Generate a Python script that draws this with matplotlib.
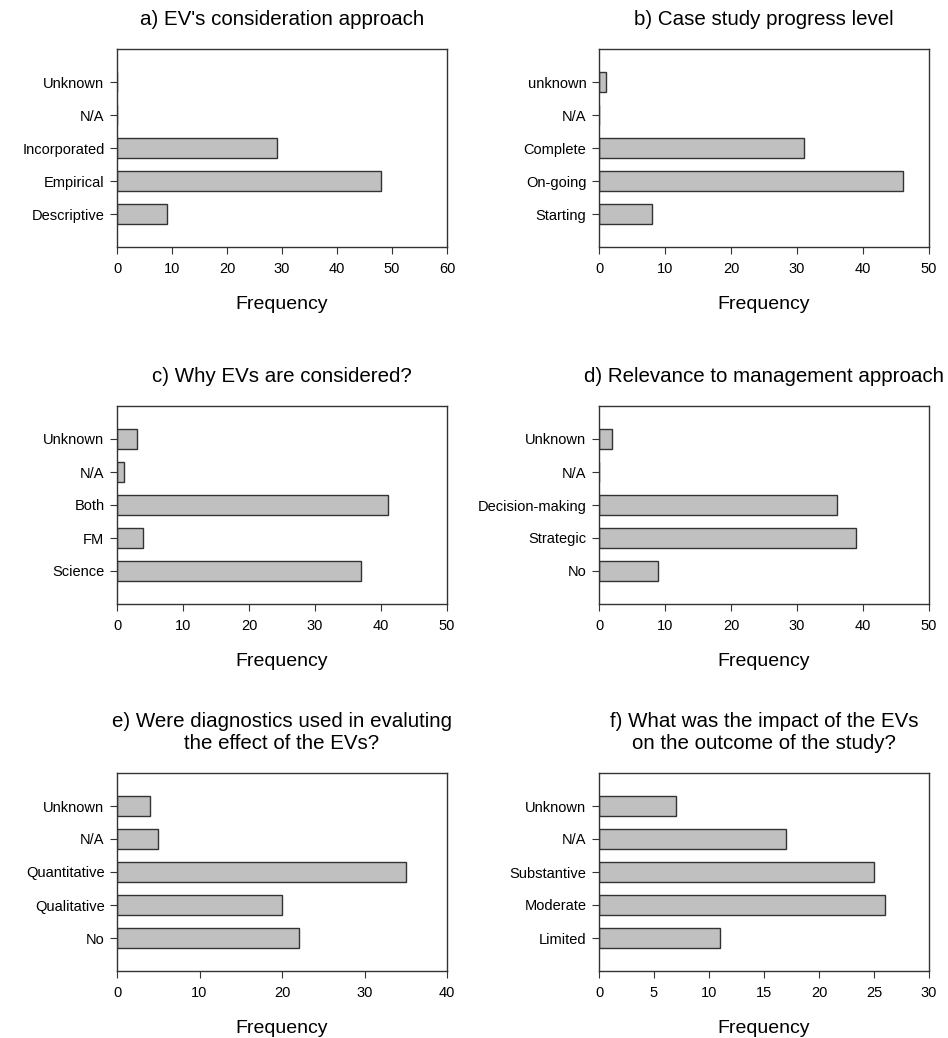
#!/usr/bin/env python
# -*- coding: utf-8 -*-

from matplotlib import pyplot as plt

plt.rcParams['font.family'] = ['Liberation Sans', 'DejaVu Sans']

# categories listed bottom to top
catA = ['Descriptive', 'Empirical', 'Incorporated', 'N/A', 'Unknown']
valA = [9, 48, 29, 0, 0]
catB = ['Starting', 'On-going', 'Complete', 'N/A', 'unknown']
valB = [8, 46, 31, 0, 1]
catC = ['Science', 'FM', 'Both', 'N/A', 'Unknown']
valC = [37, 4, 41, 1, 3]
catD = ['No', 'Strategic', 'Decision-making', 'N/A', 'Unknown']
valD = [9, 39, 36, 0, 2]
catE = ['No', 'Qualitative', 'Quantitative', 'N/A', 'Unknown']
valE = [22, 20, 35, 5, 4]
catF = ['Limited', 'Moderate', 'Substantive', 'N/A', 'Unknown']
valF = [11, 26, 25, 17, 7]

titles = ["a) EV's consideration approach",
          "b) Case study progress level",
          "c) Why EVs are considered?",
          "d) Relevance to management approach",
          "e) Were diagnostics used in evaluting\nthe effect of the EVs?",
          "f) What was the impact of the EVs\non the outcome of the study?"]
xmax = [60, 50, 50, 50, 40, 30]
xstep = [10, 10, 10, 10, 10, 5]
data = [(catA, valA), (catB, valB), (catC, valC),
        (catD, valD), (catE, valE), (catF, valF)]

W, H = 948.0, 1038.0
lefts = [117, 599]
bottoms = [247, 604, 971]
axW, axH = 330, 198

fig = plt.figure(figsize=(9.48, 10.38), dpi=100)
edge = '#333333'
for i, (cats, vals) in enumerate(data):
    row, col = i // 2, i % 2
    ax = fig.add_axes([lefts[col] / W, 1 - bottoms[row] / H, axW / W, axH / H])
    ypos = list(range(len(cats)))
    ax.barh(ypos, vals, height=0.6, color='#c0c0c0', edgecolor=edge, linewidth=1.0)
    ax.set_yticks(ypos)
    ax.set_yticklabels(cats, fontsize=10.5)
    ax.set_ylim(-1, 5)
    ax.set_xlim(0, xmax[i])
    ax.set_xticks(range(0, xmax[i] + 1, xstep[i]))
    ax.tick_params(axis='x', labelsize=10.5, length=5, color=edge, pad=6)
    ax.tick_params(axis='y', length=5, color=edge, pad=4)
    for s in ax.spines.values():
        s.set_color(edge)
        s.set_linewidth(1.0)
    ax.set_xlabel('Frequency', fontsize=14, labelpad=14)
    ax.set_title(titles[i], fontsize=14.8, pad=17, linespacing=1.22)

plt.savefig('out.png', dpi=100)
